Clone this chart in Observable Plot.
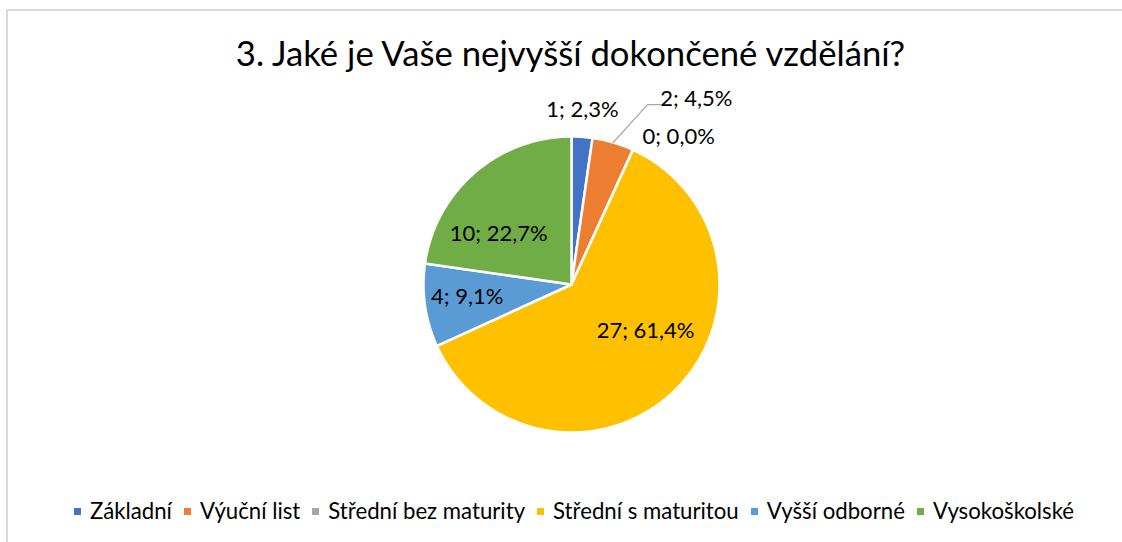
<!DOCTYPE html>
<html>
<head>
<meta charset="utf-8">
<script src="https://cdn.jsdelivr.net/npm/d3@7"></script>
<script src="https://cdn.jsdelivr.net/npm/@observablehq/plot@0.6"></script>
<style>
  html, body { margin: 0; padding: 0; background: #fff; }
  #wrap { position: relative; width: 1122px; height: 542px; overflow: hidden; font-family: Lato, "Open Sans", sans-serif; color: #000; }
  #frame { position: absolute; left: 6px; top: 9px; right: -4px; bottom: -4px; border-top: 2px solid #d9d9d9; border-left: 2px solid #d9d9d9; }
  #chart { position: absolute; left: 0; top: 0; }
  #title { position: absolute; left: 0; width: 1141px; top: 33px; text-align: center; font-size: 34.7px; line-height: 40px; white-space: nowrap; }
  #legend { position: absolute; left: 0; width: 1148px; top: 498px; display: flex; justify-content: center; align-items: center; font-size: 22.2px; line-height: 26px; white-space: nowrap; }
  .item { display: flex; align-items: center; margin: 0 6px; }
  .sw { width: 7px; height: 7px; margin-right: 9px; display: inline-block; }
</style>
</head>
<body>
<div id="wrap">
  <div id="frame"></div>
  <div id="chart"></div>
  <div id="title"></div>
  <div id="legend"></div>
</div>
<script>
// ---- data ----
const titleText = "3. Jaké je Vaše nejvyšší dokončené vzdělání?";
const categories = ["Základní", "Výuční list", "Střední bez maturity", "Střední s maturitou", "Vyšší odborné", "Vysokoškolské"];
const counts = [1, 2, 0, 27, 4, 10];
const colors = ["#4472C4", "#ED7D31", "#A5A5A5", "#FFC000", "#5B9BD5", "#70AD47"];

// ---- label layout (angle shift in degrees from slice middle, radius as fraction of pie radius) ----
const labelAngleShift = [-0.5, 17.6, 11.5, -13, 1.2, -14.1];
const labelRadius = [1.18, 1.51, 1.23, 0.59, 0.71, 0.60];
const leaderFor = 1; // "Výuční list" label has a leader line

const total = d3.sum(counts);
const arcs = d3.pie().sort(null).value(d => d).startAngle(0).endAngle(2 * Math.PI)(counts);
const polar = (a, r) => ({x: r * Math.sin(a), y: r * Math.cos(a)});
const deg = Math.PI / 180;

// slice outlines
const slicePts = [];
arcs.forEach((a, i) => {
  const cat = categories[i];
  slicePts.push({cat, x: 0, y: 0});
  const n = Math.max(1, Math.ceil((a.endAngle - a.startAngle) / (0.5 * deg)));
  for (let k = 0; k <= n; k++) {
    const t = a.startAngle + (a.endAngle - a.startAngle) * k / n;
    const p = polar(t, 1);
    slicePts.push({cat, x: p.x, y: p.y});
  }
  slicePts.push({cat, x: 0, y: 0});
});

// labels
const fmtPct = v => (v * 100).toFixed(1).replace(".", ",") + "%";
const labels = arcs.map((a, i) => {
  const mid = (a.startAngle + a.endAngle) / 2 + labelAngleShift[i] * deg;
  const p = polar(mid, labelRadius[i]);
  return {cat: categories[i], x: p.x, y: p.y, text: `${counts[i]}; ${fmtPct(counts[i] / total)}`};
});

// leader line
const la = arcs[leaderFor];
const lMid = (la.startAngle + la.endAngle) / 2;
const p1 = polar(lMid, 1.0);
const p2 = polar(22.9 * deg, 1.32);
const leader = [p1, p2, {x: p2.x + 0.09, y: p2.y}];

const chart = Plot.plot({
  width: 1122,
  height: 542,
  marginLeft: 423,
  marginRight: 403,
  marginTop: 136,
  marginBottom: 110,
  x: {domain: [-1, 1], axis: null},
  y: {domain: [-1, 1], axis: null},
  color: {domain: categories, range: colors},
  style: {background: "transparent", fontFamily: "Lato, 'Open Sans', sans-serif", overflow: "visible"},
  marks: [
    Plot.line(slicePts, {x: "x", y: "y", z: "cat", fill: "cat", stroke: "white", strokeWidth: 2.5, strokeLinejoin: "round", curve: "linear"}),
    Plot.line(leader, {x: "x", y: "y", stroke: "#A6A6A6", strokeWidth: 1.2, curve: "linear"}),
    Plot.text(labels, {x: "x", y: "y", text: "text", fill: "#000", fontSize: 22})
  ]
});
document.getElementById("chart").appendChild(chart);

document.getElementById("title").textContent = titleText;
const legend = document.getElementById("legend");
categories.forEach((c, i) => {
  const it = document.createElement("div");
  it.className = "item";
  const sw = document.createElement("span");
  sw.className = "sw";
  sw.style.background = colors[i];
  const tx = document.createElement("span");
  tx.textContent = c;
  it.appendChild(sw);
  it.appendChild(tx);
  legend.appendChild(it);
});
</script>
</body>
</html>
